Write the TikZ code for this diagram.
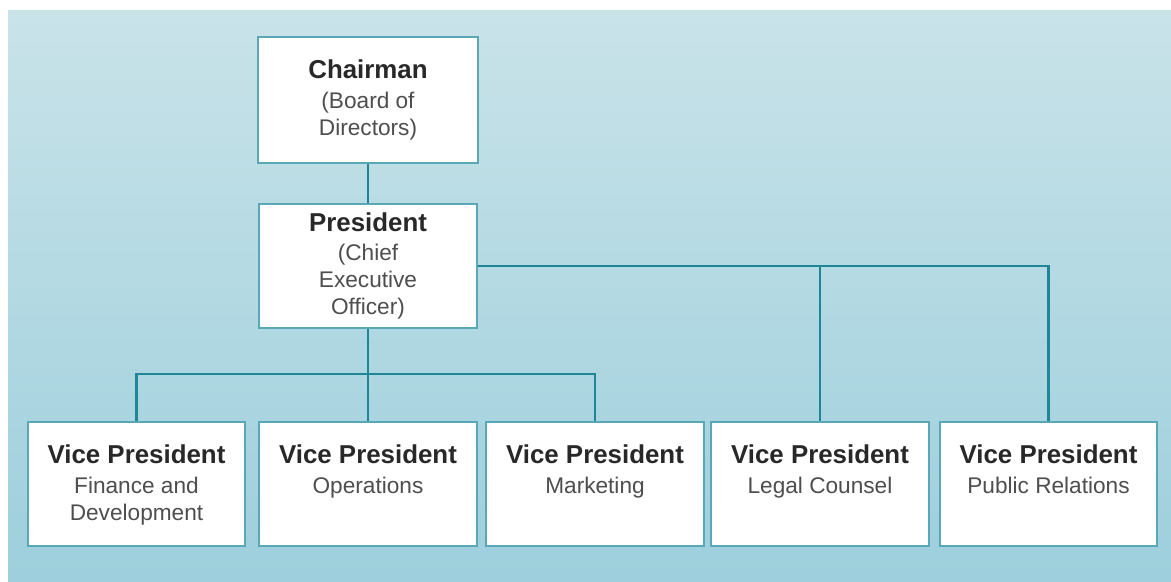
\documentclass[tikz,border=0pt]{standalone}
\usepackage{fontspec}
\setmainfont{Liberation Sans}
\usetikzlibrary{calc}
\usetikzlibrary{positioning}

\definecolor{bgTop}{RGB}{201,227,233}
\definecolor{bgBot}{RGB}{157,207,220}
\definecolor{lineTeal}{RGB}{30,134,150}
\definecolor{boxTeal}{RGB}{88,168,184}
\definecolor{txtDark}{RGB}{40,40,40}
\definecolor{txtSub}{RGB}{78,78,78}

\newcommand{\TitleFont}{\fontsize{18.4}{19.2}\selectfont\bfseries\color{txtDark}}
\newcommand{\SubFont}{\fontsize{16.1}{19.2}\selectfont\mdseries\color{txtSub}}
\newcommand{\VPText}[1]{\parbox[c][1.95cm][t]{5.3cm}{\centering{\TitleFont Vice President}\\[2.1pt]\SubFont #1}}

\begin{document}
\begin{tikzpicture}[
        x=0.025cm,y=-0.025cm,
        BoxCfg/.style={
            draw=boxTeal,
            line width=1.4pt,
            fill=white,
            align=center,
            font=\SubFont,
            inner sep=0pt,
            minimum width=5.425cm,
            minimum height=3.1cm
        },
        VPCfg/.style={
            BoxCfg,
            inner xsep=0pt,
            inner ysep=0.575cm
        },
        LinkCfg/.style={
            draw=lineTeal,
            line width=2.1pt
        }
    ]
    
    % background
    \useasboundingbox (0,0) rectangle (1171,581);
    \shade[top color=bgTop,bottom color=bgBot] (8,10) rectangle (1171,581);
    
    % Chairman and President
    \node[BoxCfg,minimum width=5.475cm,minimum height=3.15cm] (chair) at (368,100) {{\TitleFont Chairman}\\[1.5pt](Board of\\Directors)};
    \node[BoxCfg] (pres) at (368,266) {{\TitleFont President}\\[1.5pt](Chief\\Executive\\Officer)};
    
    % Vice Presidents
    \node[VPCfg] (vpFin) at (136.5,484) {\VPText{Finance and\\Development}};
    \node[VPCfg] (vpOps) at (368,484) {\VPText{Operations}};
    \node[VPCfg] (vpMkt) at (595,484) {\VPText{Marketing}};
    \node[VPCfg] (vpLegal) at (820,484) {\VPText{Legal Counsel}};
    \node[VPCfg] (vpPR) at (1048.5,484) {\VPText{Public Relations}};
    
    % links
    \coordinate (split) at ($(pres.south)+(0,45)$);
    \draw[LinkCfg] (chair) -- (pres);
    \draw[LinkCfg] (pres) -- (split);
    \draw[LinkCfg] (vpFin.north) |- (split) -| (vpMkt.north);
    \draw[LinkCfg] (split) -- (vpOps.north);
    \draw[LinkCfg] (pres.east) -| (vpLegal.north);
    \draw[LinkCfg] (pres.east) -| (vpPR.north);
    
\end{tikzpicture}
\end{document}
